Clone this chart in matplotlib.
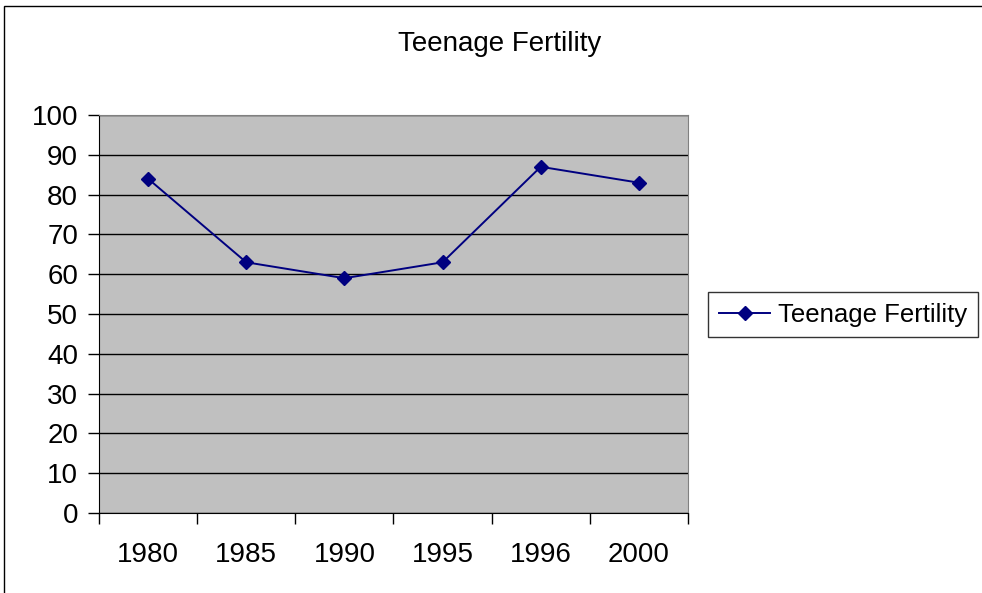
"""
Teenage fertility line chart, Excel-2003 style
"""
import matplotlib
matplotlib.use("Agg")
import matplotlib.pyplot as plt
from matplotlib.patches import Rectangle

plt.rcParams["font.family"] = ["Liberation Sans", "DejaVu Sans"]

# data
years = ["1980", "1985", "1990", "1995", "1996", "2000"]
fertility = [84, 63, 59, 63, 87, 83]
y_ticks = [0, 10, 20, 30, 40, 50, 60, 70, 80, 90, 100]

fig = plt.figure(figsize=(9.82, 5.93), dpi=100)
ax = fig.add_axes([0.1008, 0.1349, 0.5998, 0.6711])
ax.set_facecolor("#C0C0C0")

xs = list(range(len(years)))
line, = ax.plot(xs, fertility, color="#000080", linewidth=1.4, marker="D",
                markersize=7.5, label="Teenage Fertility", zorder=3)

ax.set_ylim(0, 100)
ax.set_yticks(y_ticks)
ax.set_xlim(-0.5, len(years) - 0.5)
# major ticks on category boundaries, labels centred in between
ax.set_xticks([i - 0.5 for i in range(len(years) + 1)])
ax.set_xticklabels([])
ax.set_xticks(xs, minor=True)
ax.set_xticklabels(years, minor=True)
ax.tick_params(axis="x", which="minor", length=0, pad=21, labelsize=20)
ax.tick_params(axis="x", which="major", length=8, width=1, direction="out")
ax.tick_params(axis="y", length=8, width=1, direction="out", labelsize=20, pad=7)

ax.grid(axis="y", color="black", linewidth=1, zorder=1)
ax.set_axisbelow(True)
for s in ["top", "right"]:
    ax.spines[s].set_color("#808080")
ax.spines["left"].set_color("black")
ax.spines["bottom"].set_color("black")

fig.text(0.509, 0.926, "Teenage Fertility", ha="center", va="center", fontsize=20)

leg = fig.legend(handles=[line], loc="upper left", bbox_to_anchor=(0.721, 0.508),
                 fontsize=18.5, frameon=True, fancybox=False, borderpad=0.42,
                 handlelength=2.0, handletextpad=0.3, borderaxespad=0)
leg.get_frame().set_edgecolor("black")
leg.get_frame().set_linewidth(1)

# outer chart border (cut off at right and bottom)
fig.patches.append(Rectangle((4 / 982, -0.05), 1.1, (593 - 6) / 593 + 0.05,
                             transform=fig.transFigure, fill=False,
                             edgecolor="black", linewidth=1))

fig.savefig("out.png", dpi=100)
